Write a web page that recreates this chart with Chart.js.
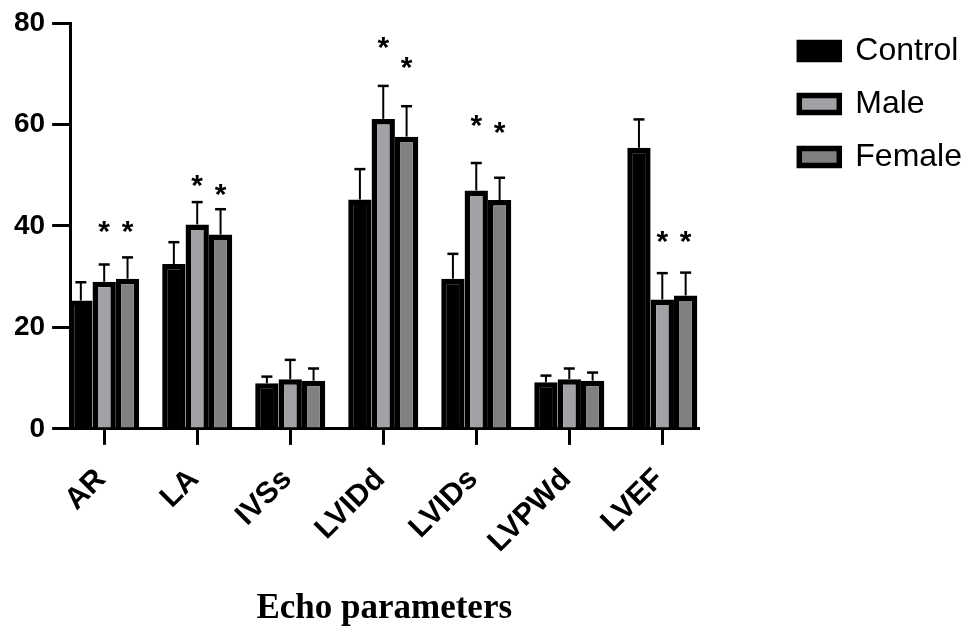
<!DOCTYPE html>
<html>
<head>
<meta charset="utf-8">
<script src="https://cdn.jsdelivr.net/npm/chart.js@4.4.0/dist/chart.umd.min.js"></script>
<style>
  html, body { margin: 0; padding: 0; background: #fff; }
</style>
</head>
<body>
<canvas id="chart" width="972" height="626"></canvas>
<script>
const categories = ["AR", "LA", "IVSs", "LVIDd", "LVIDs", "LVPWd", "LVEF"];
const seriesNames = ["Control", "Male", "Female"];

const controlMean = [25.3, 32.5, 9.0, 45.2, 29.6, 9.2, 55.4];
const controlSd   = [3.6, 4.3, 1.3, 6.0, 4.9, 1.3, 5.6];
const maleMean    = [29.0, 40.3, 9.8, 61.1, 47.0, 9.8, 25.5];
const maleSd      = [3.4, 4.4, 3.8, 6.5, 5.4, 2.1, 5.2];
const femaleMean  = [29.6, 38.3, 9.5, 57.6, 45.1, 9.5, 26.3];
const femaleSd    = [4.2, 5.0, 2.4, 6.0, 4.4, 1.6, 4.5];

// where the significance asterisks sit (value units), null = none
const controlStars = [null, null, null, null, null, null, null];
const maleStars    = [39.7, 48.7, null, 76.0, 60.5, null, 37.8];
const femaleStars  = [39.7, 46.9, null, 72.1, 59.3, null, 37.8];

const yTicks = [0, 20, 40, 60, 80];

const sans = "'Liberation Sans', Arial, sans-serif";
const serif = "'Liberation Serif', 'Times New Roman', serif";

Chart.defaults.color = "#000";

const means = [controlMean, maleMean, femaleMean];
const sds = [controlSd, maleSd, femaleSd];
const stars = [controlStars, maleStars, femaleStars];
const fills = ["#000000", "#a2a2a6", "#808080"];

// mean + SD whiskers (upper only) and the asterisks above them
const errorBars = {
    id: "errorBars",
    afterDatasetsDraw(chart) {
        const c = chart.ctx;
        const yScale = chart.scales.y;
        c.save();
        c.strokeStyle = "#000";
        chart.data.datasets.forEach((ds, di) => {
            const meta = chart.getDatasetMeta(di);
            meta.data.forEach((bar, i) => {
                const top = yScale.getPixelForValue(means[di][i] + sds[di][i]);
                c.lineWidth = 2;
                c.beginPath();
                c.moveTo(bar.x, bar.y);
                c.lineTo(bar.x, top);
                c.stroke();
                c.lineWidth = 2.5;
                c.beginPath();
                c.moveTo(bar.x - 5.5, top);
                c.lineTo(bar.x + 5.5, top);
                c.stroke();

                const s = stars[di][i];
                if (s != null) {
                    c.fillStyle = "#000";
                    c.font = "bold 30px " + sans;
                    c.textAlign = "center";
                    c.textBaseline = "alphabetic";
                    c.fillText("*", bar.x, yScale.getPixelForValue(s) + 0.45 * 30);
                }
            });
        });
        c.restore();
    }
};

new Chart(document.getElementById("chart"), {
    type: "bar",
    data: {
        datasets: seriesNames.map((name, di) => ({
            label: name,
            data: means[di].map((v, i) => ({ x: i, y: v })),
            backgroundColor: fills[di],
            borderColor: "#000",
            borderWidth: 5.5,
            categoryPercentage: 0.753,
            barPercentage: 1.0,
        })),
    },
    options: {
        responsive: false,
        animation: false,
        layout: { padding: { top: 14, right: 0, bottom: 0, left: 7 } },
        plugins: {
            tooltip: { enabled: false },
            legend: {
                position: "right",
                align: "start",
                maxWidth: 300,
                labels: {
                    boxWidth: 40,
                    boxHeight: 17,
                    padding: 21,
                    color: "#000",
                    font: { family: sans, size: 32 },
                },
            },
        },
        scales: {
            x: {
                type: "linear",
                offset: false,
                min: -0.366,
                max: 6.387,
                grid: { offset: false, drawOnChartArea: false, tickLength: 16, lineWidth: 3, color: "#000" },
                border: { display: true, width: 3, color: "#000" },
                ticks: {
                    stepSize: 1,
                    includeBounds: false,
                    autoSkip: false,
                    maxRotation: 45,
                    minRotation: 45,
                    padding: 17,
                    labelOffset: -3,
                    color: "#000",
                    font: { family: sans, size: 30, weight: "bold" },
                    callback: (v) => categories[v] ?? "",
                },
                title: {
                    display: true,
                    text: "Echo parameters",
                    color: "#000",
                    font: { family: serif, size: 35, weight: "bold", lineHeight: 1 },
                    padding: { top: 14, bottom: 0 },
                },
            },
            y: {
                min: yTicks[0],
                max: yTicks[yTicks.length - 1],
                grid: { drawOnChartArea: false, tickLength: 18, lineWidth: 3, color: "#000" },
                border: { display: true, width: 3, color: "#000" },
                afterBuildTicks: (s) => { s.ticks = yTicks.map((v) => ({ value: v })); },
                ticks: {
                    padding: 7,
                    color: "#000",
                    font: { family: sans, size: 28, weight: "bold", lineHeight: 1.143 },
                },
            },
            // empty spacer between the plot and the legend
            pad: {
                type: "linear",
                axis: "y",
                position: "right",
                grid: { display: false },
                border: { display: false },
                ticks: { display: false },
                afterFit: (s) => { s.width = 80; },
            },
        },
    },
    plugins: [errorBars],
});
</script>
</body>
</html>
